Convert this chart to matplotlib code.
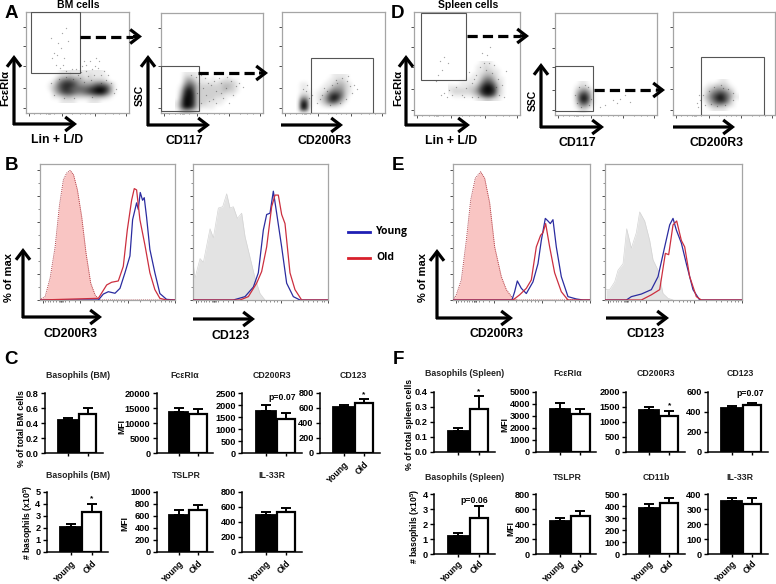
import numpy as np
import matplotlib
matplotlib.use("Agg")
import matplotlib.pyplot as plt
from matplotlib.patches import Rectangle

plt.rcParams['font.family'] = ['Liberation Sans', 'DejaVu Sans']
plt.rcParams['mathtext.fontset'] = 'custom'
plt.rcParams['mathtext.bf'] = 'Liberation Sans:bold'
W, H = 776, 584
fig = plt.figure(figsize=(W/100, H/100), dpi=100, facecolor='white')

def axpx(x0, x1, y0, y1):
    return fig.add_axes([x0/W, 1-y1/H, (x1-x0)/W, (y1-y0)/H])

# ---------- bar data: (title, ylabel, ymax, yticks, young, old, young err, old err, note)
bars_c1 = ("Basophils (BM)", "% of total BM cells", 0.8, [0, .2, .4, .6, .8], 0.44, 0.53, 0.03, 0.08, "")
bars_c2 = ("FcεRIα", "MFI", 20000, [0, 5000, 10000, 15000, 20000], 13700, 13000, 1400, 1700, "")
bars_c3 = ("CD200R3", "", 2500, [0, 500, 1000, 1500, 2000, 2500], 1750, 1450, 250, 230, "p=0.07")
bars_c4 = ("CD123", "", 800, [0, 200, 400, 600, 800], 610, 665, 30, 50, "*")
bars_c5 = ("Basophils (BM)", r"# basophils (x10$^{\mathbf{5}}$)", 5, [0, 1, 2, 3, 4, 5], 2.1, 3.35, 0.2, 0.65, "*")
bars_c6 = ("TSLPR", "MFI", 1000, [0, 200, 400, 600, 800, 1000], 610, 695, 90, 85, "")
bars_c7 = ("IL-33R", "", 800, [0, 200, 400, 600, 800], 495, 530, 35, 55, "")
bars_f1 = ("Basophils (Spleen)", "% of total spleen cells", 0.4, [0, .1, .2, .3, .4], 0.14, 0.285, 0.02, 0.085, "*")
bars_f2 = ("FcεRIα", "MFI", 5000, [0, 1000, 2000, 3000, 4000, 5000], 3600, 3170, 430, 380, "")
bars_f3 = ("CD200R3", "", 2000, [0, 500, 1000, 1500, 2000], 1390, 1200, 110, 170, "*")
bars_f4 = ("CD123", "", 600, [0, 200, 400, 600], 440, 463, 20, 20, "p=0.07")
bars_f5 = ("Basophils (Spleen)", r"# basophils (x10$^{\mathbf{5}}$)", 4, [0, 1, 2, 3, 4], 1.25, 2.4, 0.2, 0.8, "p=0.06")
bars_f6 = ("TSLPR", "MFI", 800, [0, 200, 400, 600, 800], 440, 510, 40, 65, "")
bars_f7 = ("CD11b", "", 500, [0, 100, 200, 300, 400, 500], 390, 425, 30, 45, "")
bars_f8 = ("IL-33R", "", 400, [0, 100, 200, 300, 400], 353, 338, 20, 40, "")
groups = ["Young", "Old"]

# ---------- histogram data: channel (x) and % of max (y)
b1_iso_x = [0, 17, 32, 47, 60, 72, 82, 92, 102, 114, 127, 140, 154, 167, 180, 409]
b1_iso_y = [0, 2.6, 17, 41, 73, 93, 98, 100, 97, 85, 64, 36, 13, 4, 0, 0]
b1_blue_x = [0, 177, 192, 207, 227, 242, 257, 272, 280, 292, 297, 303, 310, 315, 322, 332, 347, 362, 382, 409]
b1_blue_y = [0, 0, 4.6, 6.4, 5.2, 9, 21, 34, 62, 75, 70, 83, 77, 79, 64, 39, 21, 5, 0.5, 0]
b1_red_x = [0, 177, 202, 217, 237, 252, 264, 277, 285, 292, 302, 317, 332, 347, 362, 382, 409]
b1_red_y = [0, 1.3, 11.6, 13.7, 14.7, 26, 54, 77, 86, 85, 62, 42.5, 21, 8, 1.3, 0, 0]
b2_gray_x = [0, 7, 22, 32, 52, 62, 77, 90, 102, 112, 122, 134, 147, 157, 172, 187, 202, 217]
b2_gray_y = [31, 17, 32, 29, 55, 48, 71, 72, 82, 71, 72, 63, 67, 49, 33, 17, 5, 0]
b2_blue_x = [0, 122, 157, 182, 197, 212, 222, 232, 242, 252, 267, 282, 302, 322, 407]
b2_blue_y = [0, 0, 2.6, 10, 21, 54, 66, 67, 84, 67, 41, 13, 2.6, 0, 0]
b2_red_x = [0, 142, 167, 192, 207, 222, 237, 247, 257, 267, 277, 292, 307, 327, 407]
b2_red_y = [0, 0, 2.6, 13, 22, 41, 72, 81, 81, 66, 59, 21, 8, 0, 0]
e1_iso_x = [0, 10, 25, 40, 53, 67, 83, 95, 110, 125, 145, 160, 180, 195, 412]
e1_iso_y = [0, 4, 15.5, 46, 77, 94, 99, 94, 75, 41, 18, 8, 1, 0, 0]
e1_blue_x = [0, 177, 185, 193, 205, 220, 240, 255, 265, 277, 285, 292, 300, 310, 325, 345, 370, 390, 412]
e1_blue_y = [0, 0, 6.4, 14.7, 9, 5, 14, 28, 46, 63, 61, 59, 62, 41, 18, 2.6, 0.8, 0, 0]
e1_red_x = [0, 180, 200, 220, 235, 250, 263, 270, 278, 290, 305, 325, 345, 412]
e1_red_y = [0, 0, 4, 9, 15.5, 41, 50, 52, 59, 41, 21, 6.4, 0, 0]
e2_gray_x = [5, 15, 30, 40, 55, 66, 80, 95, 105, 120, 135, 145, 160, 175, 190, 205]
e2_gray_y = [8, 8, 14, 23, 28, 55, 40, 52, 68, 61, 46, 31, 23, 5, 1.3, 0]
e2_blue_x = [0, 65, 80, 110, 140, 160, 180, 195, 205, 215, 230, 245, 265, 285, 412]
e2_blue_y = [0, 0, 2.6, 4.6, 8, 18, 41, 58, 63, 54, 44, 28, 8, 0, 0]
e2_red_x = [0, 110, 140, 165, 182, 192, 205, 216, 230, 240, 255, 275, 290, 412]
e2_red_y = [0, 0, 4, 8, 36, 35, 58, 61, 46, 41, 18, 2.6, 0, 0]

# ---------- dot plot data: density grids (0-9, rows listed top down) and sparse events (channels from lower-left)
a1_grid = [[0,0,0,0,1,1,1,1,1,1,1,1,1,1,1,0,0,0,0],
           [0,0,0,1,2,2,3,2,2,2,1,2,1,1,1,1,0,0,0],
           [0,0,1,3,5,6,6,5,4,3,2,2,2,2,2,1,0,0,0],
           [0,1,2,5,7,8,8,7,5,4,4,4,5,6,6,5,3,1,0],
           [0,1,3,5,7,8,7,6,6,6,6,7,8,9,9,8,5,1,0],
           [0,0,2,4,6,7,7,6,5,5,6,7,8,9,9,7,4,1,0],
           [0,0,1,1,2,3,3,2,2,2,2,2,3,3,3,2,1,0,0],
           [0,0,0,0,1,1,1,1,0,0,0,1,1,1,0,0,0,0,0]]
a1_origin = (20, 40)
a1_dots = [(28,18),(25,30),(33,34),(40,36),(52,38),(60,42),(68,38),(72,45),(64,52),(56,47),(70,55),(65,33),(80,33),
           (85,30),(90,24),(88,20),(44,40),(75,30),(48,15),(66,16),(38,15),(54,35),(47,34),(69,47),(62,37),(58,31),
           (28,60),(32,70),(36,80),(40,85),(26,55),(30,48),(38,55),(35,65),(42,72),(25,75),(34,45),(40,42),(37,48),(31,58),
           (58,52),(66,44),(73,52),(60,48),(50,44),(75,38),(82,38),(78,42),(55,41),(46,44)]
a2_grid = [[0,0,1,1,1,1,0,0,0,0,0,0,0,0,0,0,0],
           [0,0,2,3,2,1,1,1,0,1,0,0,1,1,0,0,0],
           [0,0,3,5,4,2,1,1,1,1,1,2,2,2,2,1,0],
           [0,1,5,7,6,3,2,2,2,2,2,2,3,3,2,1,0],
           [0,2,7,9,7,3,2,2,2,2,2,2,3,2,2,1,0],
           [0,3,8,9,8,3,2,2,2,2,2,2,1,1,1,0,0],
           [0,4,9,9,8,3,2,2,2,2,1,1,1,0,0,0,0],
           [1,5,9,9,8,3,2,2,1,1,1,1,0,0,0,0,0],
           [1,5,9,9,7,3,1,1,1,1,0,0,0,0,0,0,0],
           [0,2,3,3,2,1,0,0,0,0,0,0,0,0,0,0,0]]
a2_origin = (16, 38)
a2_dots = [(38,30),(42,25),(45,18),(50,28),(55,22),(60,30),(65,25),(70,32),(62,15),(48,12),(40,10),(75,27),(72,18),(58,35),
           (52,14),(68,10),(44,35),(36,20),(40,38),(78,30),(66,36),(55,10),(47,30),(35,36),(60,20),(53,32),(82,26),(30,38)]
a3_grid = [[0,0,0,0,0,0,0,0,0,1,1,1,1,0,0],
           [0,0,0,0,0,0,0,0,1,1,2,2,1,0,0],
           [0,1,1,0,0,0,0,1,1,2,3,3,2,1,0],
           [0,1,1,0,0,0,1,1,2,4,4,4,2,1,0],
           [0,1,1,1,0,1,1,2,5,6,6,5,2,1,0],
           [0,3,3,1,0,1,2,4,7,9,8,5,2,0,0],
           [0,7,7,1,0,1,2,4,7,8,6,3,1,0,0],
           [0,9,9,1,0,0,1,2,3,3,2,1,0,0,0],
           [0,8,8,0,0,0,0,0,0,0,0,0,0,0,0],
           [0,0,0,0,0,0,0,0,0,0,0,0,0,0,0]]
a3_origin = (16, 36)
a3_dots = [(24,22),(21,24),(27,15),(35,10),(40,18),(38,14),(45,22),(50,28),(55,30),(65,32),(68,27),(72,28),(70,20),(64,14),
           (58,10),(48,8),(60,35),(42,25),(66,37),(54,33),(30,18),(25,28),(75,24)]
d1_grid = [[0,0,0,0,0,0,0,0,1,1,1,0,0,0,0,0,0],
           [0,0,0,0,0,0,0,1,1,2,1,1,0,0,0,0,0],
           [0,0,0,0,0,0,0,1,1,2,2,1,1,0,0,0,0],
           [0,0,0,0,0,0,1,1,2,3,3,2,1,0,0,0,0],
           [0,0,0,0,0,1,1,1,3,5,5,3,1,1,0,0,0],
           [0,0,0,1,1,1,1,2,5,7,7,5,2,1,0,0,0],
           [1,1,1,1,1,2,2,4,7,9,9,7,3,1,0,0,0],
           [1,2,2,2,2,2,3,5,8,9,9,8,3,1,0,0,0],
           [0,1,1,1,1,1,2,3,6,8,8,6,2,1,0,0,0],
           [0,0,0,0,0,0,0,1,1,2,2,1,1,0,0,0,0]]
d1_origin = (36, 52)
d1_dots = [(30,22),(35,25),(38,20),(42,28),(48,20),(52,27),(58,32),(62,40),(66,48),(70,52),(73,60),(78,42),(84,36),(88,30),
           (76,68),(68,62),(60,36),(50,18),(85,20),(90,18),(80,50),(27,20),(33,18),(64,18),(58,18),(72,45),(75,52),(82,28),
           (24,40),(28,45),(22,34),(26,54),(30,58),(34,52),(55,43),(92,44)]
d2_grid = [[0,0,1,1,0,0,0],
           [0,1,2,2,1,0,0],
           [0,2,4,5,3,1,0],
           [0,3,7,8,5,1,0],
           [0,3,8,9,6,1,0],
           [0,2,6,7,4,1,0],
           [0,1,3,3,2,0,0],
           [0,0,1,1,0,0,0]]
d2_origin = (18, 32)
d2_dots = [(22,12),(20,20),(34,10),(36,16),(24,28),(30,30),(33,28),(26,8),(45,8),(50,10),(58,15),(65,16),(70,20),(62,12),(75,13)]
d3_grid = [[0,0,0,0,0,1,1,0,0,0],
           [0,0,1,1,2,2,2,1,0,0],
           [0,1,2,3,4,4,3,2,1,0],
           [0,1,3,5,6,7,6,4,2,0],
           [0,2,4,6,8,9,7,5,2,1],
           [0,1,3,5,7,8,7,4,1,0],
           [0,0,2,3,4,4,3,2,1,0],
           [0,0,0,1,1,1,1,0,0,0]]
d3_origin = (28, 34)
d3_dots = [(27,15),(30,20),(32,10),(36,24),(41,28),(50,27),(55,26),(60,22),(60,15),(52,10),(44,9),(38,11),(24,12),(25,8),(26,20),(48,30)]

BLUE, RED = '#2b2ca0', '#cc2f3f'

def hist_ticks(ax, w, ymaj=(0, 20, 40, 60, 80, 100)):
    ax.set_yticks(list(ymaj))
    ax.set_yticks([10, 30, 50, 70, 90], minor=True)
    maj = [0.024*w, 0.30*w, 0.65*w, 1.0*w]
    mn = [0.04*w, 0.06*w, 0.08*w, 0.10*w, 0.12*w, 0.14*w, 0.15*w, 0.155*w, 0.16*w, 0.165*w, 0.17*w, 0.19*w, 0.22*w, 0.26*w,
          0.40*w, 0.46*w, 0.50*w, 0.54*w, 0.57*w, 0.60*w, 0.62*w, 0.74*w, 0.81*w, 0.85*w, 0.89*w, 0.92*w, 0.95*w, 0.97*w]
    ax.set_xticks(maj)
    ax.set_xticks(mn, minor=True)
    ax.tick_params(axis='both', which='major', length=2.5, width=0.6, labelleft=False, labelbottom=False, color='#333333')
    ax.tick_params(axis='both', which='minor', length=1.2, width=0.4, color='#333333')

def style_box(ax):
    for s in ax.spines.values():
        s.set_color('#a5a5a5')
        s.set_linewidth(0.9)

def histo(box, xmax, iso=None, gray=None, blue=None, red=None):
    ax = axpx(*box)
    ax.set_xlim(0, xmax)
    ax.set_ylim(0, 105)
    if iso:
        ax.fill_between(iso[0], iso[1], color='#f9c5c3', lw=0, zorder=1)
        ax.plot(iso[0], iso[1], color='#b04048', lw=0.7, ls=(0, (1, 1)), zorder=2)
    if gray:
        ax.fill_between(gray[0], gray[1], color='#e3e3e3', lw=0, zorder=1)
        ax.plot(gray[0], gray[1], color='#d4d4d4', lw=0.5, zorder=2)
    ax.plot(blue[0], blue[1], color=BLUE, lw=0.9, zorder=3)
    ax.plot(red[0], red[1], color=RED, lw=0.9, zorder=4)
    style_box(ax)
    hist_ticks(ax, xmax)
    return ax

histo((39.5, 175.5, 164, 300), 409, iso=(b1_iso_x, b1_iso_y), blue=(b1_blue_x, b1_blue_y), red=(b1_red_x, b1_red_y))
histo((192.7, 328.3, 164, 300), 407, gray=(b2_gray_x, b2_gray_y), blue=(b2_blue_x, b2_blue_y), red=(b2_red_x, b2_red_y))
histo((453, 590.3, 164, 300), 412, iso=(e1_iso_x, e1_iso_y), blue=(e1_blue_x, e1_blue_y), red=(e1_red_x, e1_red_y))
histo((604.7, 742, 164, 300), 412, gray=(e2_gray_x, e2_gray_y), blue=(e2_blue_x, e2_blue_y), red=(e2_red_x, e2_red_y))

def dots(box, grid, origin, sparse, gate):
    ax = axpx(*box)
    w, h = box[1]-box[0], box[3]-box[2]
    g = np.array(grid, dtype=float)
    rgba = np.zeros(g.shape + (4,))
    rgba[..., 3] = (g/9.0)**1.1 * 0.97
    x0, ytop = origin
    ext = (x0-2, x0-2+4*g.shape[1], ytop+2-4*g.shape[0], ytop+2)
    ax.imshow(rgba, extent=ext, origin='upper', aspect='auto', interpolation='bicubic', zorder=1)
    ax.set_xlim(0, w)
    ax.set_ylim(0, h)
    sx, sy = zip(*sparse)
    ax.scatter(sx, sy, s=0.9, c='#222222', alpha=0.4, lw=0, zorder=2)
    gx0, gx1, gy0, gy1 = gate
    ax.add_patch(Rectangle((gx0, gy0), gx1-gx0, gy1-gy0, fill=False, ec='#555555', lw=0.8, zorder=3))
    style_box(ax)
    ax.set_xticks([0.03*w, 0.35*w, 0.67*w, 0.97*w])
    ax.set_xticks([0.08*w, 0.14*w, 0.19*w, 0.21*w, 0.22*w, 0.23*w, 0.27*w, 0.45*w, 0.52*w, 0.57*w, 0.62*w, 0.77*w, 0.84*w, 0.9*w], minor=True)
    ax.set_yticks(np.array([0.05, 0.25, 0.47, 0.66, 0.85])*h)
    ax.tick_params(axis='both', which='major', length=2.2, width=0.6, labelleft=False, labelbottom=False, color='#333333')
    ax.tick_params(axis='both', which='minor', length=1, width=0.4, color='#333333')
    return ax

dots((26, 129, 12, 113), a1_grid, a1_origin, a1_dots, (4.5, 53.5, 40.5, 101))
dots((161, 263, 13, 113), a2_grid, a2_origin, a2_dots, (0, 38, 2, 47))
dots((282, 385, 12, 113), a3_grid, a3_origin, a3_dots, (28.5, 91, 0, 55))
dots((414, 520, 12, 115), d1_grid, d1_origin, d1_dots, (7, 52, 35, 102))
dots((555, 657, 13, 115), d2_grid, d2_origin, d2_dots, (0, 38, 4, 49))
dots((673, 775, 12, 115), d3_grid, d3_origin, d3_dots, (28, 91, 0, 58))

def barpanel(spec, ax0, ax1, y0, y1, title_x, title_y, labels=False, ylab_x=None, ylab_dy=0, note_xy=None, xpad=2.5):
    title, ylabel, ymax, yticks, a, b, ea, eb, note = spec
    ax = axpx(ax0, ax1, y1, y0)
    ax.set_ylim(0, ymax)
    ax.set_xlim(-1.16, 1.78)
    ax.bar(0, a, width=1.0, color='black', ec='black', lw=1.3)
    ax.bar(1, b, width=0.9, color='white', ec='black', lw=1.6)
    ax.errorbar([0, 1], [a, b], yerr=[[0, 0], [ea, eb]], fmt='none', ecolor='black', elinewidth=1.4, capsize=3.8, capthick=1.4)
    for s in ('top', 'right'):
        ax.spines[s].set_visible(False)
    for s in ('left', 'bottom'):
        ax.spines[s].set_linewidth(1.1)
    ax.set_yticks(yticks)
    if ymax < 1:
        ax.set_yticklabels([f"{t:.1f}" for t in yticks])
    ax.set_xticks([0, 1])
    ax.set_xticklabels(groups if labels else ["", ""], rotation=45, ha='right', rotation_mode='anchor', fontsize=6.2, fontweight='bold')
    ax.tick_params(axis='both', length=3, width=1.0, labelsize=6.6, pad=1.5)
    ax.tick_params(axis='x', labelsize=6.2, pad=xpad, length=2.4)
    for t in ax.get_yticklabels():
        t.set_fontweight('bold')
    ov.text(title_x, title_y, title, ha='center', va='center', fontsize=6.3, fontweight='bold', color='#222222')
    if ylabel:
        ov.text(ylab_x, (y0+y1)/2 + ylab_dy, ylabel, rotation=90, ha='center', va='center', fontsize=6.2, fontweight='bold')
    if note == '*':
        ax.text(1, b+eb+ymax*0.02, '*', ha='center', va='bottom', fontsize=6, fontweight='bold')
    elif note:
        ov.text(note_xy[0], note_xy[1], note, ha='center', va='center', fontsize=6.2, fontweight='bold')
    return ax

# overlay in pixel coordinates for annotation only
ov = fig.add_axes([0, 0, 1, 1], zorder=20)
ov.set_xlim(0, W)
ov.set_ylim(H, 0)
ov.axis('off')
ov.patch.set_alpha(0)

barpanel(bars_c1, 45, 103, 453.3, 393.3, 78, 376, ylab_x=21.5, ylab_dy=5)
barpanel(bars_c2, 156.7, 213, 453.3, 393.3, 185, 376, ylab_x=122, ylab_dy=3)
barpanel(bars_c3, 242.3, 301.7, 453.3, 393.3, 272, 376, note_xy=(282, 398))
barpanel(bars_c4, 320, 380, 452.7, 392.7, 353, 375, labels=True)
barpanel(bars_c5, 46.7, 108, 551.7, 491.7, 78, 475, labels=True, ylab_x=28, ylab_dy=1)
barpanel(bars_c6, 156.7, 213, 551.7, 491.7, 186, 475, labels=True, ylab_x=125, ylab_dy=2)
barpanel(bars_c7, 242.3, 301.7, 551.7, 491.7, 272, 475, labels=True)
barpanel(bars_f1, 434, 495.3, 451.7, 391.7, 465, 374, ylab_x=410, ylab_dy=3)
barpanel(bars_f2, 536.3, 596.3, 451.7, 391.7, 568, 374, ylab_x=505, ylab_dy=3)
barpanel(bars_f3, 626.3, 684.7, 451.7, 391.7, 656, 374)
barpanel(bars_f4, 708, 768, 451.7, 391.7, 740, 374, note_xy=(750, 393.3))
barpanel(bars_f5, 434, 495.3, 554.3, 494.3, 465, 477.7, labels=True, ylab_x=415, ylab_dy=2, note_xy=(474.7, 500.7), xpad=0.8)
barpanel(bars_f6, 536.3, 596.3, 554.3, 494.3, 567, 477.7, labels=True, ylab_x=511, ylab_dy=4, xpad=0.8)
barpanel(bars_f7, 626.3, 684.7, 554.3, 494.3, 656, 477.7, labels=True, xpad=0.8)
barpanel(bars_f8, 708, 768, 554.3, 494.3, 740, 477.7, labels=True, xpad=0.8)

def arrow(x0, y0, x1, y1):
    ov.annotate('', xy=(x1, y1), xytext=(x0, y0),
                arrowprops=dict(arrowstyle='->,head_length=0.55,head_width=0.42', lw=2.3, color='black',
                                shrinkA=0, shrinkB=0, mutation_scale=12, joinstyle='miter', capstyle='butt'))

def larrow(x, top, bottom, right):
    arrow(x, bottom+1, x, top)
    arrow(x-1, bottom, right, bottom)

def dashed(x0, x1, y):
    ov.plot([x0, x1-9], [y, y], color='black', lw=2.3, ls=(0, (3.2, 1.6)), solid_capstyle='butt')
    arrow(x1-9, y, x1, y)

larrow(14, 55, 124, 77)
larrow(148, 55, 125, 210)
arrow(281, 125, 343, 125)
larrow(406, 55, 125, 470)
larrow(541, 63, 127, 604)
arrow(673, 127, 735, 127)
larrow(23, 248, 317, 102)
arrow(193, 319, 255, 319)
larrow(437, 249, 318, 513)
arrow(606, 318, 669, 318)
dashed(80, 142, 36.5)
dashed(198, 268, 73)
dashed(467, 529, 36)
dashed(594, 665, 90)

def lab(x, y, s, size=8.8, rot=0, **kw):
    ov.text(x, y, s, ha='center', va='center', fontsize=size, fontweight='bold', rotation=rot, **kw)

for x, y, s in [(11, 13.5, 'A'), (398, 13.5, 'D'), (12, 166, 'B'), (398, 166, 'E'), (11, 360, 'C'), (398, 360, 'F')]:
    lab(x, y, s, size=13.5)
lab(78, 5.5, 'BM cells', 7.5)
lab(468, 5.5, 'Spleen cells', 7.5)
lab(57, 140, 'Lin + L/D')
lab(5.5, 88, 'FcεRIα', 8, 90)
lab(184, 141, 'CD117')
lab(140, 95, 'SSC', 7.5, 90)
lab(324, 141, 'CD200R3')
lab(451, 141, 'Lin + L/D')
lab(398, 88, 'FcεRIα', 8, 90)
lab(577, 143, 'CD117')
lab(533, 100, 'SSC', 7.5, 90)
lab(717, 143, 'CD200R3')
lab(9, 277, '% of max', 8, 90)
lab(71, 334, 'CD200R3')
lab(231, 336, 'CD123')
lab(423, 277, '% of max', 8, 90)
lab(497, 334, 'CD200R3')
lab(646, 334, 'CD123')

ov.plot([348, 370], [231.7, 231.7], color='#1f1fb4', lw=2)
ov.plot([348, 370], [257.7, 257.7], color='#d8202c', lw=2)
ov.text(376, 231.7, 'Young', ha='left', va='center', fontsize=7.5, fontweight='bold', family=['Open Sans', 'DejaVu Sans'])
ov.text(376, 257.7, 'Old', ha='left', va='center', fontsize=7.5, fontweight='bold', family=['Open Sans', 'DejaVu Sans'])

fig.savefig('out.png', dpi=100)
